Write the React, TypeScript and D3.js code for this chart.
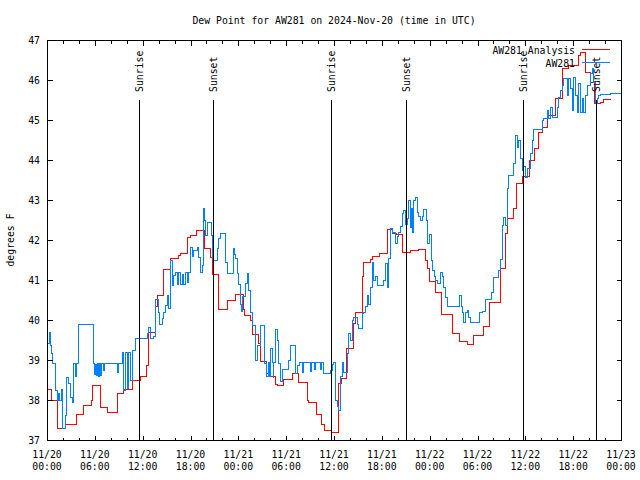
import React from 'react';
import * as d3 from 'd3';

const TITLE = 'Dew Point for AW281 on 2024-Nov-20 (time in UTC)';
const Y_LABEL = 'degrees F';

const xTickHours = [0, 6, 12, 18, 24, 30, 36, 42, 48, 54, 60, 66, 72];
const xTickDates = ['11/20', '11/20', '11/20', '11/20', '11/21', '11/21', '11/21', '11/21', '11/22', '11/22', '11/22', '11/22', '11/23'];
const xTickTimes = ['00:00', '06:00', '12:00', '18:00', '00:00', '06:00', '12:00', '18:00', '00:00', '06:00', '12:00', '18:00', '00:00'];
const yTicks = [37, 38, 39, 40, 41, 42, 43, 44, 45, 46, 47];

const sunLabels = ['Sunrise', 'Sunset', 'Sunrise', 'Sunset', 'Sunrise', 'Sunset'];
const sunHours = [11.58, 20.86, 35.65, 44.97, 59.75, 68.88];

const seriesNames = ['AW281 Analysis', 'AW281'];
const seriesColors = ['#ff0000', '#0080ff'];

// Analysis (red) step series: hours since 11/20 00:00 UTC, deg F
const analysisHours = [
  0, 0.5, 1.29, 2.26, 3.64, 4.55, 5.48, 5.64, 6.59, 7.49, 8.74, 9.53, 10.62, 11.67, 12.42, 12.61,
  13.55, 13.76, 14.59, 15.43, 16.47, 16.68, 17.6, 17.94, 18.65, 19.69, 20.45, 20.66, 21.49, 22.54,
  23.58, 24.55, 24.75, 25.46, 25.75, 26.5, 26.72, 27.47, 27.76, 28.6, 28.81, 29.64, 30.69, 31.52,
  32.58, 32.78, 33.74, 34.37, 34.78, 35.62, 36.47, 36.84, 37.5, 38.42, 38.63, 39.47, 39.68, 40.52,
  40.73, 41.68, 42.61, 43.24, 43.78, 44.49, 45.53, 46.58, 47.42, 47.7, 47.96, 48.67, 49.42, 50.77,
  51.72, 52.65, 53.48, 54.73, 55.48, 56.82, 57.45, 57.66, 58.49, 58.79, 59.6, 60.5, 61.1, 61.6,
  62.1, 62.68, 62.88, 63.72, 64.56, 65.4, 66.65, 66.86, 67.49, 68.11, 68.61, 69.37, 69.7, 70.6,
];
const analysisValues = [
  38.27, 38.0, 37.31, 37.4, 37.65, 37.87, 38.0, 38.37, 37.82, 37.7, 38.17, 38.27, 38.5, 38.6, 38.87, 39.7,
  40.35, 40.63, 41.27, 41.56, 41.62, 41.67, 42.07, 42.12, 42.25, 41.79, 41.58, 41.15, 40.27, 40.5,
  40.65, 40.27, 40.12, 40.0, 39.65, 39.42, 38.97, 38.68, 38.61, 38.4, 38.37, 38.52, 38.67, 38.46,
  38.0, 37.94, 37.64, 37.39, 37.25, 37.2, 38.42, 38.54, 39.29, 39.92, 40.19, 41.1, 41.46, 41.52,
  41.6, 41.68, 42.27, 42.18, 42.15, 41.71, 41.75, 41.77, 41.5, 41.29, 40.97, 40.69, 40.14, 39.68,
  39.48, 39.4, 39.62, 39.85, 40.44, 41.29, 42.17, 42.54, 42.79, 43.42, 43.6, 44.0, 44.3, 44.7,
  44.83, 45.08, 45.12, 45.54, 46.29, 46.37, 46.62, 46.71, 46.21, 45.96, 45.42, 45.46, 45.52, 45.52,
];

// Observations (blue) step series
const obsHours = [
  0, 0.29, 0.38, 0.44, 0.66, 1.0, 1.22, 1.42, 1.54, 1.72, 1.84, 2.26, 2.38, 2.67, 2.89, 3.17, 3.3, 3.45,
  3.64, 3.85, 3.93, 5.73, 5.9, 6.02, 6.15, 6.27, 6.4, 6.52, 6.65, 6.77, 7.02, 7.15, 8.74, 8.94, 9.37,
  9.57, 9.78, 10.0, 10.2, 10.41, 10.62, 11.04, 12.5, 12.7, 12.92, 13.33, 13.55, 13.6, 13.96, 14.1,
  14.39, 14.59, 14.8, 15.01, 15.22, 15.43, 15.64, 15.84, 16.06, 16.27, 16.47, 16.68, 16.9, 17.1,
  17.31, 17.52, 17.72, 17.94, 18.13, 18.35, 18.78, 18.98, 19.19, 19.4, 19.6, 19.7, 19.82, 20.03,
  20.53, 20.66, 20.86, 21.29, 21.5, 21.7, 22.33, 22.54, 23.37, 23.46, 23.58, 23.8, 24.0, 24.15,
  24.3, 24.5, 24.84, 25.05, 25.25, 25.46, 25.68, 26.09, 26.3, 26.72, 27.26, 27.47, 27.68, 27.85,
  27.97, 28.19, 28.29, 28.41, 28.6, 28.81, 29.01, 29.23, 29.44, 30.27, 30.48, 31.11, 31.32, 31.65,
  31.93, 32.05, 32.99, 33.12, 33.43, 33.56, 34.25, 34.37, 34.66, 35.5, 35.69, 35.91, 36.13, 36.4,
  36.54, 36.75, 36.97, 37.07, 37.59, 37.79, 38.0, 38.22, 38.42, 38.85, 39.05, 39.48, 39.68, 39.89,
  40.1, 40.3, 40.52, 40.73, 40.93, 41.14, 41.36, 42.18, 42.4, 42.61, 42.81, 43.03, 43.24, 43.65,
  43.86, 44.07, 44.28, 44.49, 44.69, 44.9, 45.12, 45.32, 45.53, 45.66, 45.78, 45.95, 46.16, 46.37,
  46.58, 46.79, 47.0, 47.2, 47.5, 47.7, 47.92, 48.13, 48.33, 48.55, 48.73, 48.88, 49.3, 49.51,
  49.71, 49.92, 50.14, 51.68, 51.89, 52.06, 52.22, 52.43, 52.64, 52.85, 53.06, 54.23, 54.53,
  54.94, 55.66, 55.91, 56.53, 56.82, 57.04, 57.2, 57.45, 57.66, 57.76, 57.86, 58.49, 58.71, 58.92,
  59.12, 59.33, 59.54, 59.74, 59.96, 60.17, 60.59, 60.8, 61.0, 62.05, 62.26, 62.68, 62.88, 63.09,
  63.31, 63.93, 64.14, 64.35, 64.56, 64.76, 65.19, 65.4, 65.61, 65.82, 66.02, 66.23, 66.44, 66.65,
  66.86, 67.07, 67.28, 67.49, 67.7, 68.11, 68.32, 68.52, 68.74, 68.95, 69.16, 69.37, 70.62, 72,
];
const obsValues = [
  39.42, 39.71, 39.38, 39.17, 38.92, 38.25, 38.0, 38.17, 38.0, 38.27, 37.31, 37.62, 38.58, 38.42, 38.08, 37.96, 38.92, 38.6,
  38.92, 39.67, 39.9, 38.92, 38.65, 38.9, 38.62, 38.92, 38.6, 38.92, 38.62, 38.92, 38.75, 38.92, 38.7, 38.92, 39.2,
  38.25, 39.2, 38.3, 39.2, 38.5, 39.25, 39.54, 39.67, 39.83, 39.54, 39.6, 40.37, 40.52, 40.2, 39.9,
  40.04, 40.2, 40.37, 40.62, 40.3, 41.5, 40.87, 41.12, 41.21, 40.9, 41.2, 40.9, 41.15, 40.9,
  41.2, 40.95, 41.21, 41.83, 41.6, 41.75, 41.83, 41.58, 41.2, 41.37, 42.81, 42.5, 42.12, 42.46,
  42.12, 41.54, 41.5, 41.79, 42.04, 42.17, 41.46, 41.18, 41.79, 41.65, 41.54, 41.17, 40.9, 40.4,
  40.22, 40.6, 40.92, 41.17, 40.75, 40.2, 39.87, 39.0, 39.37, 39.87, 38.92, 38.6, 38.95, 38.6,
  39.3, 38.95, 38.58, 38.95, 39.77, 39.5, 38.92, 38.48, 38.77, 39.0, 39.37, 38.67, 38.87, 38.94,
  38.7, 38.94, 38.72, 38.94, 38.77, 38.94, 38.77, 38.94, 38.68, 38.75, 38.9, 38.96, 38.0, 37.85,
  37.75, 38.6, 38.96, 38.7, 39.17, 39.67, 39.5, 40.0, 40.08, 39.9, 39.79, 40.17, 40.2, 40.35,
  40.62, 40.4, 40.83, 41.46, 41.0, 41.1, 40.87, 41.0, 41.42, 40.83, 41.54, 42.29, 42.2, 41.92,
  42.1, 42.2, 42.35, 42.67, 42.75, 42.4, 42.55, 43.0, 42.33, 42.8, 42.2, 43.0, 43.08, 42.7,
  42.6, 42.5, 42.6, 42.77, 42.5, 41.92, 42.15, 41.5, 41.25, 41.1, 41.0, 40.92, 41.21, 41.1,
  40.83, 40.58, 40.35, 40.62, 40.35, 40.2, 39.96, 40.2, 40.25, 40.08, 39.94, 40.2, 40.22,
  40.52, 40.69, 41.07, 41.25, 41.52, 42.37, 42.58, 42.37, 42.62, 43.29, 43.62, 43.92, 44.62, 44.33,
  44.5, 44.04, 43.75, 43.85, 43.58, 43.79, 44.18, 44.5, 44.77, 45.0, 45.04, 45.25, 45.04, 45.33,
  45.08, 45.33, 45.58, 45.75, 45.87, 46.04, 45.62, 46.04, 45.8, 45.25, 46.08, 45.62, 45.2, 45.92,
  45.2, 45.54, 45.2, 45.62, 45.87, 46.17, 46.29, 45.96, 45.42, 45.54, 45.62, 45.64, 45.67, 45.67,
];

const FONT = '"DejaVu Sans Mono", monospace';
const FS = 9.8;

export default function App() {
  const left = 47, right = 621, top = 40, bottom = 440;
  const x = d3.scaleLinear().domain([0, 72]).range([left, right]);
  const y = d3.scaleLinear().domain([37, 47]).range([bottom, top]);
  const px = (v: number) => Math.round(v) + 0.5;

  const line = d3
    .line<[number, number]>()
    .x((d) => px(x(d[0])))
    .y((d) => px(y(d[1])))
    .curve(d3.curveStepAfter);

  const analysis = d3.zip(analysisHours, analysisValues) as [number, number][];
  const obs = d3.zip(obsHours, obsValues) as [number, number][];

  const minorHours = d3.range(0, 73, 2);
  const L = px(left), R = px(right), T = px(top), B = px(bottom);

  return (
    <svg
      width={640}
      height={480}
      style={{ position: 'absolute', left: 0, top: 0, background: '#fff' }}
      fontFamily={FONT}
      fontSize={FS}
    >
      <rect x={0} y={0} width={640} height={480} fill="#fff" />
      <text x={(left + right) / 2} y={24} textAnchor="middle" fill="#000">{TITLE}</text>
      <text transform={`translate(14,240) rotate(-90)`} textAnchor="middle" fill="#000">{Y_LABEL}</text>

      {/* data */}
      <path d={line(analysis) || ''} fill="none" stroke={seriesColors[0]} strokeWidth={1} shapeRendering="crispEdges" />
      <path d={line(obs) || ''} fill="none" stroke={seriesColors[1]} strokeWidth={1} shapeRendering="crispEdges" />

      {/* sunrise / sunset */}
      {sunHours.map((h, i) => (
        <g key={'sun' + i}>
          <line x1={px(x(h))} x2={px(x(h))} y1={100} y2={bottom} stroke="#000" shapeRendering="crispEdges" />
          <text transform={`translate(${x(h) + 4},92) rotate(-90)`} textAnchor="start" fill="#000">{sunLabels[i]}</text>
        </g>
      ))}

      {/* frame */}
      <rect x={L} y={T} width={R - L} height={B - T} fill="none" stroke="#000" shapeRendering="crispEdges" />

      {/* x ticks */}
      {minorHours.map((h) => {
        const len = h % 6 === 0 ? 5 : 3;
        const xx = px(x(h));
        return (
          <g key={'xt' + h}>
            <line x1={xx} x2={xx} y1={B} y2={B - len} stroke="#000" shapeRendering="crispEdges" />
            <line x1={xx} x2={xx} y1={T} y2={T + len} stroke="#000" shapeRendering="crispEdges" />
          </g>
        );
      })}
      {xTickHours.map((h, i) => (
        <g key={'xl' + h}>
          <text x={x(h)} y={458} textAnchor="middle" fill="#000">{xTickDates[i]}</text>
          <text x={x(h)} y={470} textAnchor="middle" fill="#000">{xTickTimes[i]}</text>
        </g>
      ))}

      {/* y ticks */}
      {yTicks.map((v) => {
        const yy = px(y(v));
        return (
          <g key={'yt' + v}>
            <line x1={L} x2={L + 5} y1={yy} y2={yy} stroke="#000" shapeRendering="crispEdges" />
            <line x1={R} x2={R - 5} y1={yy} y2={yy} stroke="#000" shapeRendering="crispEdges" />
            <text x={40} y={y(v) + 4} textAnchor="end" fill="#000">{v}</text>
          </g>
        );
      })}

      {/* legend */}
      {seriesNames.map((name, i) => (
        <g key={'lg' + i}>
          <text x={575} y={54 + i * 12.5} textAnchor="end" fill="#000">{name}</text>
          <line x1={582} x2={610} y1={49.5 + i * 13} y2={49.5 + i * 13} stroke={seriesColors[i]} shapeRendering="crispEdges" />
        </g>
      ))}
    </svg>
  );
}
